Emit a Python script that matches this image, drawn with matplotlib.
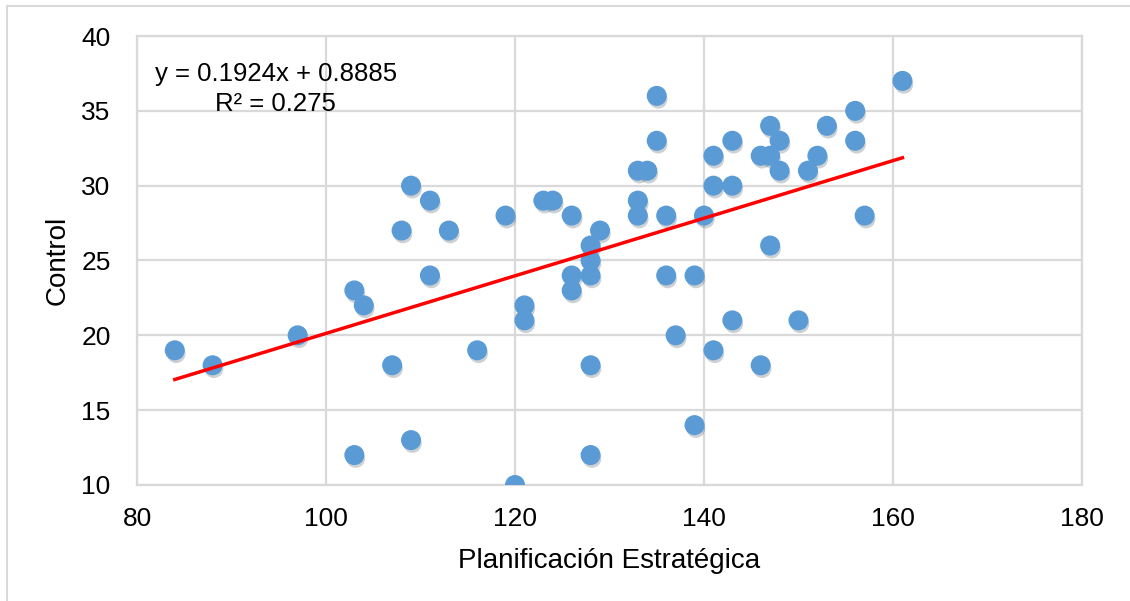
import numpy as np
import matplotlib
matplotlib.use("Agg")
import matplotlib.pyplot as plt
import matplotlib.patheffects as pe
from matplotlib.lines import Line2D

plt.rcParams['font.family'] = ['Liberation Sans', 'DejaVu Sans']

# Planificación Estratégica (x) vs Control (y)
planificacion = [84, 88, 97, 103, 104, 103, 107, 108, 109, 109, 111, 111, 113, 116,
                 119, 120, 121, 121, 123, 124, 126, 126, 126, 129, 128, 128, 128, 128,
                 128, 133, 134, 133, 133, 135, 135, 136, 136, 137, 139, 139, 140, 141,
                 141, 141, 143, 143, 143, 146, 146, 147, 147, 147, 148, 148, 150, 151,
                 152, 153, 156, 156, 157, 161]
control = [19, 18, 20, 23, 22, 12, 18, 27, 30, 13, 29, 24, 27, 19,
           28, 10, 22, 21, 29, 29, 28, 24, 23, 27, 26, 25, 24, 18,
           12, 31, 31, 29, 28, 36, 33, 28, 24, 20, 24, 14, 28, 32,
           30, 19, 33, 30, 21, 18, 32, 34, 32, 26, 33, 31, 21, 31,
           32, 34, 35, 33, 28, 37]

slope = 0.1924
intercept = 0.8885
r2 = 0.275

fig = plt.figure(figsize=(11.30, 6.01), dpi=100)
ax = fig.add_axes([137 / 1130, 1 - 485 / 601, (1082 - 137) / 1130, (485 - 36) / 601])

grid_col = '#D9D9D9'
ax.set_xlim(80, 180)
ax.set_ylim(10, 40)
ax.set_xticks(np.arange(80, 181, 20))
ax.set_yticks(np.arange(10, 41, 5))
ax.grid(True, color=grid_col, linewidth=1.6)
ax.set_axisbelow(True)
for s in ax.spines.values():
    s.set_color(grid_col)
    s.set_linewidth(1.6)
ax.tick_params(length=0, labelsize=19)
ax.tick_params(axis='y', pad=19)
ax.tick_params(axis='x', pad=16)

# scatter with a soft drop shadow
ax.scatter(planificacion, control, s=180, color='#5B9BD5', zorder=3,
           path_effects=[pe.SimplePatchShadow(offset=(1, -2.5), alpha=0.22), pe.Normal()])

# trend line
xs = np.array([min(planificacion), max(planificacion)])
ax.plot(xs, slope * xs + intercept, color='#FF0000', linewidth=2.5, zorder=4)

ax.text(0.147, 0.882, f"y = {slope}x + {intercept}\nR² = {r2}", transform=ax.transAxes,
        ha='center', va='center', multialignment='center', fontsize=18.5, linespacing=1.35)

ax.set_xlabel("Planificación Estratégica", fontsize=20, labelpad=12)
ax.set_ylabel("Control", fontsize=20, labelpad=8)

# chart area border (top and left visible)
fig.add_artist(Line2D([7 / 1130, 7 / 1130], [0, 1 - 6 / 601], color=grid_col, linewidth=1.5))
fig.add_artist(Line2D([7 / 1130, 1], [1 - 6 / 601, 1 - 6 / 601], color=grid_col, linewidth=1.5))

fig.savefig("out.png", dpi=100)
